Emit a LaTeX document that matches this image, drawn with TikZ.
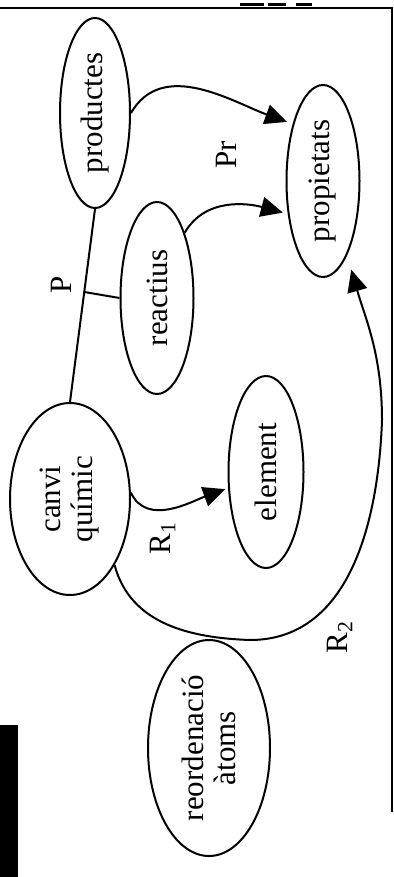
\documentclass[tikz,border=0pt]{standalone}
\usepackage{fontspec}
\setmainfont{Liberation Serif}
\usepackage{tikz}
\usetikzlibrary{shapes.geometric, arrows.meta, calc}

\tikzset{
  concept/.style={ellipse, draw, line width=1pt, rotate=90, inner sep=0pt, align=center, font=\fontsize{15.5}{16}\selectfont},
  tag/.style={rotate=90, inner sep=0pt, font=\fontsize{15.5}{16}\selectfont},
  link/.style={line width=1pt, -{Triangle[length=11pt,width=10pt]}},
  plainlink/.style={line width=1pt}
}

\begin{document}
\begin{tikzpicture}[x=0.5pt, y=0.5pt]
        \useasboundingbox (0,0) rectangle (394,-877);
        \draw[line width=1pt] (0,-8) -- (392,-8) -- (392,-812);
        \draw[line width=1.5pt, dash pattern=on 12pt off 2pt on 9pt off 5pt] (240,-5) -- (312,-5);
        \fill (0,-725) rectangle (18,-877);

        \node[concept, minimum width=95pt, minimum height=35pt] (prod) at (95,-113) {productes};
        \node[concept, minimum width=96pt, minimum height=36.5pt] (prop) at (323,-181) {propietats};
        \node[concept, minimum width=96pt, minimum height=36.5pt] (react) at (157,-298) {reactius};
        \node[concept, minimum width=96pt, minimum height=60pt] (canvi) at (70,-499) {canvi\\químic};
        \node[concept, minimum width=96pt, minimum height=37.5pt] (elem) at (266,-472) {element};
        \node[concept, minimum width=108pt, minimum height=61pt] (reord) at (209,-748) {reordenació\\àtoms};

        \coordinate (r2low) at (250,-640);
        \coordinate (r2right) at (382,-420);

        \draw[plainlink] (prod.west) -- coordinate[pos=0.43] (fork) (canvi.east);
        \draw[plainlink] (fork) -- (react.north);
        \draw[link, shorten >=3pt] (prod.south) to[out=60, in=160] (prop.28);
        \draw[link, shorten >=2.5pt] (react.-23) to[out=60, in=165] (prop.133);
        \draw[link, shorten >=1.5pt] (canvi.-84) to[out=-65, in=200] (elem.113);
        \draw[link, shorten >=7.5pt] (canvi.-146) to[out=-75, in=178] (r2low) to[out=0, in=-92] (r2right) to[out=90, in=-74] (prop.-162);

        \node[tag] (pLab) at (61,-285) {P};
        \node[tag] (prLab) at (226,-155) {Pr};
        \node[tag] (r1Lab) at (163,-538) {R\textsubscript{1}};
        \node[tag] (r2Lab) at (340,-637) {R\textsubscript{2}};
      \end{tikzpicture}
\end{document}
